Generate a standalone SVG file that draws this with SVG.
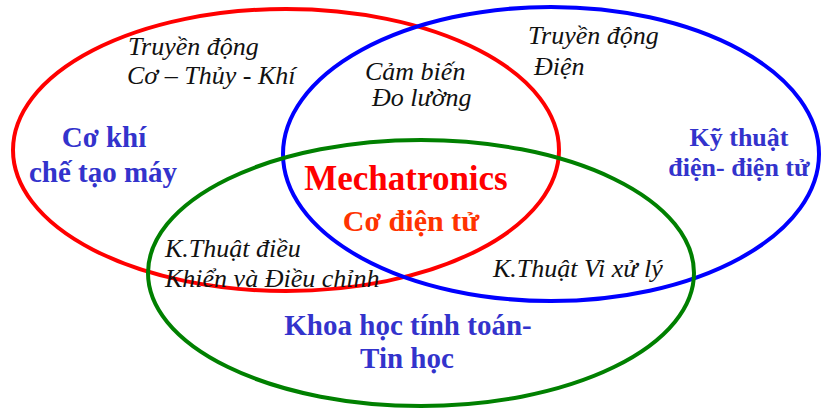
<svg xmlns="http://www.w3.org/2000/svg" width="823" height="411" viewBox="0 0 823 411">
  <style>
    .ring { fill: none; stroke-width: 4; }
    .label { font-family: 'Liberation Serif', 'DejaVu Serif', serif; }
    .note { font-style: italic; font-size: 26px; fill: #111; }
    .field { font-weight: bold; font-size: 29px; fill: #3333CC; text-anchor: middle; }
    .field.small { font-size: 26px; }
    .core { font-weight: bold; text-anchor: middle; }
  </style>
  <rect width="823" height="411" fill="#ffffff"/>

  <!-- the three overlapping discipline rings -->
  <g id="connectors">
    <ellipse id="ring-mechanical" class="ring" cx="286" cy="150" rx="273" ry="141" stroke="#FF0000"/>
    <ellipse id="ring-electrical" class="ring" cx="551" cy="154" rx="268" ry="147" stroke="#0000FF"/>
    <ellipse id="ring-computing" class="ring" cx="421" cy="273" rx="273" ry="133" stroke="#008000"/>
  </g>

  <g class="label">
    <g id="mechanical">
      <text class="field" x="104" y="147">Cơ khí</text>
      <text class="field" x="103" y="182">chế tạo máy</text>
    </g>

    <g id="mechanical-drives">
      <text class="note" x="128" y="55">Truyền động</text>
      <text class="note" x="127" y="84">Cơ – Thủy - Khí</text>
    </g>

    <g id="sensors">
      <text class="note" x="365" y="80">Cảm biến</text>
      <text class="note" x="372" y="106">Đo lường</text>
    </g>

    <g id="electric-drives">
      <text class="note" x="528" y="44">Truyền động</text>
      <text class="note" x="534" y="75">Điện</text>
    </g>

    <g id="electrical">
      <text class="field small" x="739" y="146">Kỹ thuật</text>
      <text class="field small" x="739" y="176">điện- điện tử</text>
    </g>

    <g id="mechatronics">
      <text class="core" x="406" y="190" font-size="35" fill="#FF0000">Mechatronics</text>
      <text class="core" x="411" y="231" font-size="30" fill="#FF3300">Cơ điện tử</text>
    </g>

    <g id="control">
      <text class="note" x="165" y="257">K.Thuật điều</text>
      <text class="note" x="165" y="287">Khiển và Điều chỉnh</text>
    </g>

    <g id="microprocessor">
      <text class="note" x="493" y="277">K.Thuật Vi xử lý</text>
    </g>

    <g id="computing">
      <text class="field" x="408" y="335">Khoa học tính toán-</text>
      <text class="field" x="407" y="368">Tin học</text>
    </g>
  </g>
</svg>
